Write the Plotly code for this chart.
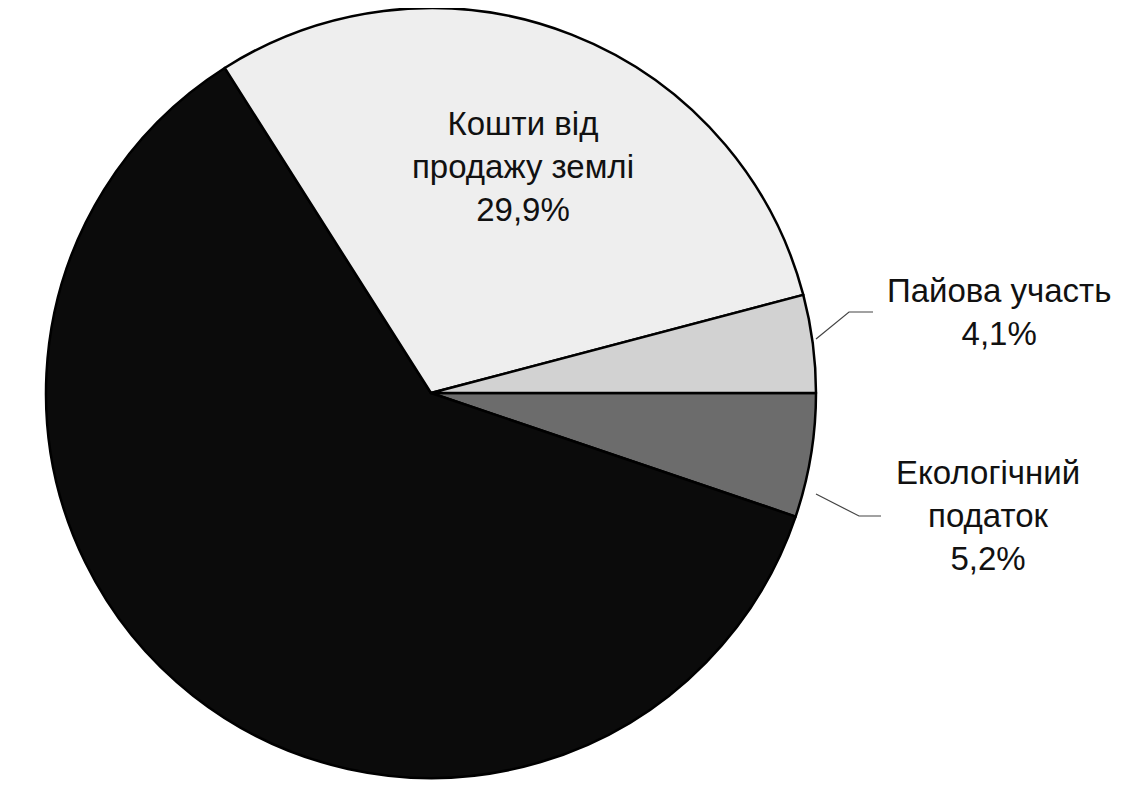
import plotly.graph_objects as go

labels = ["Екологічний податок", "Інші", "Кошти від продажу землі", "Пайова участь"]
label_lines = ["Екологічний<br>податок", "", "Кошти від<br>продажу землі", "Пайова участь"]
values = [5.2, 60.8, 29.9, 4.1]
colors = ["#6c6c6c", "#0b0b0b", "#eeeeee", "#d2d2d2"]
show_label = [True, False, True, True]

W, H = 1126, 807
OFF = 7  # page offset of the rendered figure
cx, cy, r = 430 - OFF, 386 - OFF + 6, 385  # pie placement in px (figure coords)

fig = go.Figure(go.Pie(
    labels=labels, values=values, sort=False, direction="clockwise",
    rotation=90, textinfo="none", hoverinfo="label+percent",
    marker=dict(colors=colors, line=dict(color="#000000", width=2.5)),
    domain=dict(x=[max(0, (cx - r) / W), min(1, (cx + r) / W)],
                y=[max(0, (H - cy - r) / H), min(1, (H - cy + r) / H)]),
    showlegend=False,
))

def fmt(v):
    return f"{v:.1f}".replace(".", ",") + "%"

# label anchor positions (px, screenshot coords)
label_pos = [(987, 515), None, (522, 166), (998, 311)]
annotations = []
for txt, v, show, pos in zip(label_lines, values, show_label, label_pos):
    if not show or pos is None:
        continue
    annotations.append(dict(
        x=(pos[0] - OFF) / W, y=1 - (pos[1] - OFF) / H, xref="paper", yref="paper",
        text=f"{txt}<br>{fmt(v)}", showarrow=False,
        font=dict(family="Liberation Sans, Arial", size=33, color="#111111"),
        align="center", xanchor="center", yanchor="middle",
    ))

def px_line(pts):
    path = "M " + " L ".join(f"{(x - OFF) / W},{1 - (y - OFF) / H}" for x, y in pts)
    return dict(type="path", path=path, xref="paper", yref="paper",
                line=dict(color="#444444", width=1.2))

shapes = [
    px_line([(815, 338), (848, 311), (872, 311)]),
    px_line([(815, 493), (858, 515), (880, 515)]),
]

fig.update_layout(
    width=W, height=H, margin=dict(l=0, r=0, t=0, b=0),
    paper_bgcolor="white", plot_bgcolor="white",
    annotations=annotations, shapes=shapes, separators=", ",
)
fig.write_html("out.html")
